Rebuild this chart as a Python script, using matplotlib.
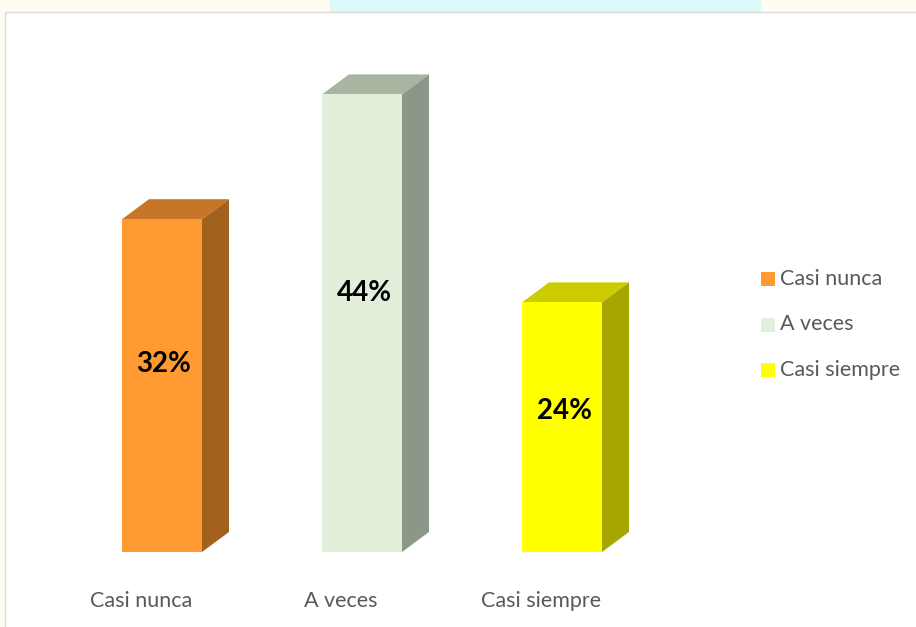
import matplotlib
matplotlib.use("Agg")
import matplotlib.pyplot as plt
from matplotlib.patches import Polygon, Rectangle

categories = ["Casi nunca", "A veces", "Casi siempre"]
values = [32, 44, 24]
labels = ["32%", "44%", "24%"]

front_colors = ["#FF9A33", "#E2EFDA", "#FFFF00"]
top_colors = ["#C77628", "#A9B5A0", "#CCCC00"]
side_colors = ["#A3611F", "#8D9787", "#A6A600"]

W, H = 916, 627
fig = plt.figure(figsize=(W / 100, H / 100), dpi=100)
fig.patch.set_facecolor("white")

# faint background strip above the chart area
bg = fig.add_axes([0, 0, 1, 1], zorder=-5)
bg.set_xlim(0, W)
bg.set_ylim(H, 0)
bg.axis("off")
bg.add_patch(Rectangle((0, 0), W, H, color="#FFFDF2"))
bg.add_patch(Rectangle((330, 0), 430, 14, color="#DDF9FA"))
bg.add_patch(Rectangle((5, 12), W, H, facecolor="white", edgecolor="#D9D9D9", lw=1.0))

# main axes: y=0 at pixel 552 from top, 10.4 px per percent
left_px, right_px = 62, 662
base_px = 552
ppu = 10.4
ymax = 50
ax = fig.add_axes([left_px / W, (H - base_px) / H, (right_px - left_px) / W, ymax * ppu / H])
ax.set_xlim(-0.5, 2.5)
ax.set_ylim(0, ymax)
ax.axis("off")

bw = 0.4
dx = 27 / 200.0
dy = 20 / ppu
xs = list(range(len(categories)))

ax.bar(xs, values, width=bw, color=front_colors, zorder=3)
for x, v, tc, sc in zip(xs, values, top_colors, side_colors):
    x0, x1 = x - bw / 2, x + bw / 2
    ax.add_patch(Polygon([(x0, v), (x1, v), (x1 + dx, v + dy), (x0 + dx, v + dy)],
                         closed=True, facecolor=tc, edgecolor="none", zorder=2))
    ax.add_patch(Polygon([(x1, 0), (x1 + dx, dy), (x1 + dx, v + dy), (x1, v)],
                         closed=True, facecolor=sc, edgecolor="none", zorder=2))

for x, v, lab in zip(xs, values, labels):
    ax.annotate(lab, xy=(x, v * 0.565), xytext=(2, 0), textcoords="offset pixels",
                ha="center", va="center", fontsize=20,
                fontweight="bold", family="Lato", color="black", zorder=5)

for x, c in zip(xs, categories):
    ax.annotate(c, xy=(x, 0), xytext=(-21, -49), textcoords="offset pixels",
                ha="center", va="center", fontsize=15.5, family="Lato",
                color="#595959", annotation_clip=False)

# legend
for i, (c, fc) in enumerate(zip(categories, front_colors)):
    y = 279 + i * 45.5
    bg.add_patch(Rectangle((761, y - 7), 14, 14, facecolor=fc, edgecolor="none"))
    bg.text(780, y, c, ha="left", va="center", fontsize=15.5, family="Lato", color="#595959")

fig.savefig("out.png", dpi=100)
